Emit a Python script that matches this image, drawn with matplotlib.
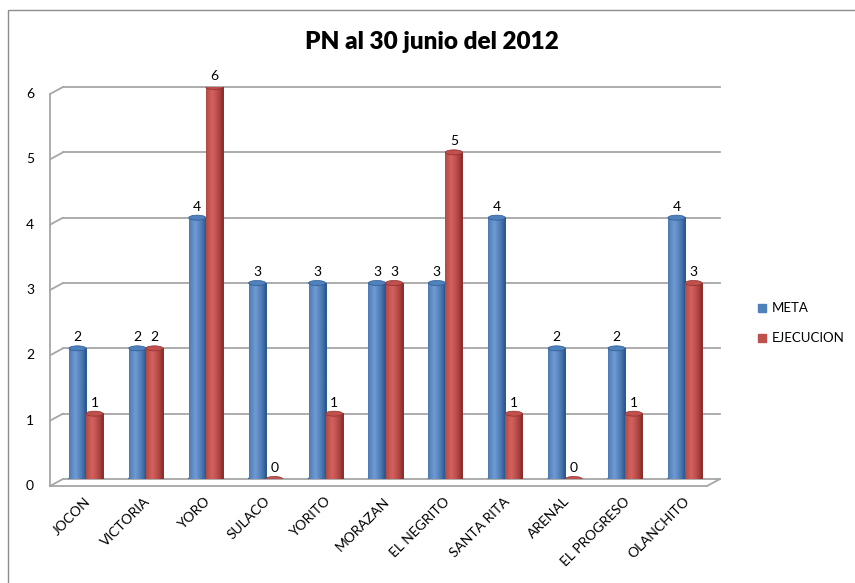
import numpy as np
import matplotlib
matplotlib.use('Agg')
import matplotlib.pyplot as plt
from matplotlib.patches import Ellipse, Rectangle
from matplotlib.transforms import ScaledTranslation, blended_transform_factory

plt.rcParams['font.family'] = ['Lato', 'DejaVu Sans']

# data
municipios = ['JOCON', 'VICTORIA', 'YORO', 'SULACO', 'YORITO', 'MORAZAN',
              'EL NEGRITO', 'SANTA RITA', 'ARENAL', 'EL PROGRESO', 'OLANCHITO']
meta = [2, 2, 4, 3, 3, 3, 3, 4, 2, 2, 4]
ejecucion = [1, 2, 6, 0, 1, 3, 5, 1, 0, 1, 3]
y_ticks = [0, 1, 2, 3, 4, 5, 6]

W, H = 855, 583
fig = plt.figure(figsize=(W / 100, H / 100), dpi=100)

# outer chart border (only top/left visible in the crop)
fig.add_artist(Rectangle((8 / W, -0.1), 2, 1.1 - 10 / H, transform=fig.transFigure,
                         fill=False, ec='#8c8c8c', lw=1))

# axes: back wall from x=63..720 px, y 0 -> 479 px, 6 -> 87 px
ax = fig.add_axes([63 / W, (H - 479) / H, 657 / W, (479 - 87) / H])
step = 59.9
x_left = (63 - 86) / step
x_right = (720 - 86) / step
ax.set_xlim(x_left, x_right)
ax.set_ylim(0, 6)
ax.axis('off')


def px(dx, dy):
    return ScaledTranslation(dx / 100, dy / 100, fig.dpi_scale_trans)


grid_c = '#a6a6a6'
bx = blended_transform_factory(ax.transAxes, ax.transData)
# back gridlines and left wall diagonals
for v in y_ticks:
    ax.plot([0, 1], [v, v], color=grid_c, lw=1.3, transform=bx, clip_on=False, zorder=1)
    ax.annotate('', xy=(0, v), xycoords=bx, xytext=(-13, -7), textcoords='offset pixels',
                arrowprops=dict(arrowstyle='-', color=grid_c, lw=1.3,
                                shrinkA=0, shrinkB=0))
    ax.text(0, v, str(v), transform=bx + px(-33, -7), ha='center', va='center',
            fontsize=10, color='#000000')
# front left vertical line
ax.plot([0, 0], [0, 6], color=grid_c, lw=1.3, clip_on=False,
        transform=bx + px(-13, -7), zorder=1)
# front floor line and right diagonal
ax.plot([0, 1], [0, 0], color=grid_c, lw=1.3, clip_on=False,
        transform=bx + px(-13, -7), zorder=1)
ax.annotate('', xy=(1, 0), xycoords=bx, xytext=(-13, -7), textcoords='offset pixels',
            arrowprops=dict(arrowstyle='-', color=grid_c, lw=1.3, shrinkA=0, shrinkB=0))

x = np.arange(len(municipios))
bw = 0.285
ell_h = 5 / 65.3


def cylinder(xc, h, base, dark, light):
    left = xc - bw / 2
    if h > 0:
        grad = np.linspace(0, 1, 64)
        shade = np.clip(1 - np.abs(grad - 0.35) * 1.8, 0, 1) ** 0.7
        img = np.zeros((1, 64, 3))
        for i in range(3):
            img[0, :, i] = dark[i] + (light[i] - dark[i]) * shade
        ax.imshow(img, extent=(left, left + bw, 0, h), aspect='auto',
                  interpolation='bilinear', zorder=3)
        ax.add_patch(Ellipse((xc, 0), bw, ell_h, color=dark, zorder=2.9))
    ax.add_patch(Ellipse((xc, h), bw, ell_h, color=base, ec=dark, lw=0.5, zorder=3.1))


def hex2rgb(hx):
    return tuple(int(hx[i:i + 2], 16) / 255 for i in (1, 3, 5))


blue = hex2rgb('#4f81bd')
blue_d = hex2rgb('#2c5a93')
blue_l = hex2rgb('#6f9ad3')
red = hex2rgb('#c0504d')
red_d = hex2rgb('#8e2f2d')
red_l = hex2rgb('#d4625e')

for i in range(len(municipios)):
    cylinder(x[i] - bw / 2, meta[i], blue, blue_d, blue_l)
    cylinder(x[i] + bw / 2, ejecucion[i], red, red_d, red_l)
    ax.annotate(str(meta[i]), (x[i] - bw / 2, meta[i]), xytext=(0, 5),
                textcoords='offset pixels', ha='center', va='bottom', fontsize=10, zorder=5)
    ax.annotate(str(ejecucion[i]), (x[i] + bw / 2, ejecucion[i]), xytext=(0, 5),
                textcoords='offset pixels', ha='center', va='bottom', fontsize=10, zorder=5)
    ax.text(x[i], 0, municipios[i], transform=ax.transData + px(-2, -16),
            rotation=45, rotation_mode='anchor', ha='right', va='top', fontsize=10)

ax.set_xlim(x_left, x_right)
ax.set_ylim(0, 6)

# title
fig.text(432 / W, 1 - 42 / H, 'PN al 30 junio del 2012', ha='center', va='center',
         fontsize=17.5, fontweight='heavy')

# legend
for j, (lab, col) in enumerate([('META', blue), ('EJECUCION', red)]):
    yy = 1 - (308 + j * 30) / H
    fig.add_artist(Rectangle((758 / W, yy - 4 / H), 8 / W, 8 / H, color=col,
                             transform=fig.transFigure))
    fig.text(772 / W, yy, lab, ha='left', va='center', fontsize=9.5)

fig.savefig('out.png', dpi=100)
